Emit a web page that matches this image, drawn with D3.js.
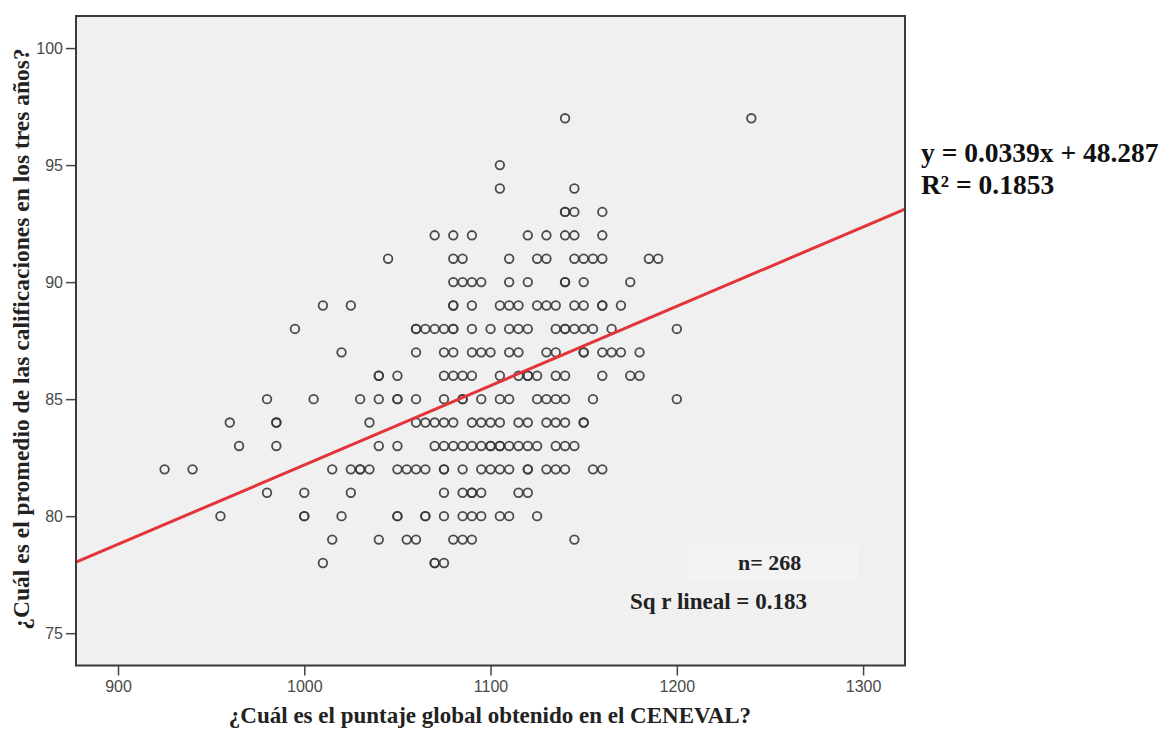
<!DOCTYPE html>
<html>
<head>
<meta charset="utf-8">
<script src="https://cdn.jsdelivr.net/npm/d3@7"></script>
<style>
  body { margin: 0; background: #fff; }
  svg { display: block; }
</style>
</head>
<body>
<div id="chart-area"></div>
<script>
var promedios = [97, 95, 94, 93, 92, 91, 90, 89, 88, 87, 86, 85, 84, 83, 82, 81, 80, 79, 78];
var puntajes = [
  [1140, 1240],
  [1105],
  [1105, 1145],
  [1140, 1140, 1145, 1160],
  [1070, 1080, 1090, 1120, 1130, 1140, 1145, 1160],
  [1045, 1080, 1085, 1110, 1125, 1130, 1145, 1150, 1155, 1160, 1185, 1190],
  [1080, 1085, 1090, 1095, 1110, 1120, 1140, 1140, 1150, 1175],
  [1010, 1025, 1080, 1080, 1090, 1105, 1110, 1115, 1125, 1130, 1135, 1145, 1150, 1160, 1160, 1170],
  [995, 1060, 1060, 1065, 1070, 1075, 1080, 1080, 1090, 1100, 1110, 1115, 1120, 1135, 1140, 1140, 1145, 1150, 1155, 1165, 1200],
  [1020, 1060, 1075, 1080, 1090, 1095, 1100, 1110, 1115, 1130, 1135, 1150, 1150, 1160, 1165, 1170, 1180],
  [1040, 1040, 1050, 1075, 1080, 1085, 1090, 1105, 1115, 1120, 1120, 1125, 1135, 1140, 1160, 1175, 1180],
  [980, 1005, 1030, 1040, 1050, 1050, 1060, 1075, 1085, 1085, 1095, 1105, 1110, 1125, 1130, 1135, 1140, 1155, 1200],
  [960, 985, 985, 1035, 1060, 1065, 1070, 1075, 1080, 1090, 1095, 1100, 1105, 1115, 1120, 1130, 1135, 1140, 1150, 1150],
  [965, 985, 1040, 1050, 1070, 1075, 1080, 1085, 1090, 1095, 1100, 1100, 1105, 1105, 1110, 1115, 1120, 1125, 1135, 1140, 1145],
  [925, 940, 1015, 1025, 1030, 1030, 1035, 1050, 1055, 1060, 1065, 1075, 1075, 1085, 1095, 1100, 1105, 1110, 1120, 1120, 1130, 1135, 1140, 1155, 1160],
  [980, 1000, 1025, 1075, 1085, 1090, 1090, 1095, 1115, 1120],
  [955, 1000, 1000, 1020, 1050, 1050, 1065, 1065, 1075, 1085, 1090, 1095, 1105, 1110, 1125],
  [1015, 1040, 1055, 1060, 1080, 1085, 1090, 1145],
  [1010, 1070, 1070, 1075]
];
var xTicks = [900, 1000, 1100, 1200, 1300];
var yTicks = [75, 80, 85, 90, 95, 100];
var pendiente = 0.0339;
var intercepto = 48.287;

var data = [];
promedios.forEach(function(p, i) {
  puntajes[i].forEach(function(s) {
    data.push({ x: s, y: p });
  });
});

var svg = d3.select('#chart-area').append('svg')
  .attr('width', 1164)
  .attr('height', 729);

var plotLeft = 76, plotTop = 16, plotRight = 905, plotBottom = 665.5;

var x = d3.scaleLinear()
  .domain([877.45, 1322.5])
  .range([plotLeft, plotRight]);

var y = d3.scaleLinear()
  .domain([73.62, 101.37])
  .range([plotBottom, plotTop]);

svg.append('rect')
  .attr('x', plotLeft)
  .attr('y', plotTop)
  .attr('width', plotRight - plotLeft)
  .attr('height', plotBottom - plotTop)
  .attr('fill', '#f0f0f0');

// caja clara detras de n=
svg.append('rect')
  .attr('x', 687)
  .attr('y', 545)
  .attr('width', 171)
  .attr('height', 35)
  .attr('fill', '#f3f3f3');

var xAxis = svg.append('g')
  .attr('transform', 'translate(0,' + plotBottom + ')')
  .call(d3.axisBottom(x).tickValues(xTicks).tickSize(10).tickPadding(5).tickFormat(d3.format('d')));

var yAxis = svg.append('g')
  .attr('transform', 'translate(' + plotLeft + ',0)')
  .call(d3.axisLeft(y).tickValues(yTicks).tickSize(10).tickPadding(3));

[xAxis, yAxis].forEach(function(g) {
  g.select('.domain').remove();
  g.selectAll('.tick line').attr('stroke', '#444').attr('stroke-width', 1.5);
  g.selectAll('.tick text')
    .attr('fill', '#4a4a4a')
    .style('font-family', '"Liberation Sans", Arial, sans-serif')
    .style('font-size', '16px');
});

svg.append('g')
  .selectAll('circle')
  .data(data)
  .enter()
  .append('circle')
    .attr('cx', function(d) { return x(d.x); })
    .attr('cy', function(d) { return y(d.y); })
    .attr('r', 4.3)
    .attr('fill', 'none')
    .attr('stroke', '#383838')
    .attr('stroke-width', 1.8)
    .attr('stroke-opacity', 0.9);

var x0 = x.domain()[0], x1 = x.domain()[1];
svg.append('line')
  .attr('x1', x(x0))
  .attr('y1', y(pendiente * x0 + intercepto))
  .attr('x2', x(x1))
  .attr('y2', y(pendiente * x1 + intercepto))
  .attr('stroke', '#e3343a')
  .attr('stroke-width', 3);

svg.append('rect')
  .attr('x', plotLeft)
  .attr('y', plotTop)
  .attr('width', plotRight - plotLeft)
  .attr('height', plotBottom - plotTop)
  .attr('fill', 'none')
  .attr('stroke', '#3a3a3a')
  .attr('stroke-width', 2);

var serif = '"Liberation Serif", "Times New Roman", serif';

svg.append('text')
  .attr('x', 490)
  .attr('y', 723)
  .attr('text-anchor', 'middle')
  .style('font-family', serif)
  .style('font-weight', 'bold')
  .style('font-size', '23px')
  .attr('fill', '#222')
  .text('¿Cuál es el puntaje global obtenido en el CENEVAL?');

svg.append('text')
  .attr('transform', 'translate(29,339) rotate(-90)')
  .attr('text-anchor', 'middle')
  .style('font-family', serif)
  .style('font-weight', 'bold')
  .style('font-size', '23.5px')
  .attr('fill', '#222')
  .text('¿Cuál es el promedio de las calificaciones en los tres años?');

svg.append('text')
  .attr('x', 738)
  .attr('y', 570)
  .style('font-family', serif)
  .style('font-weight', 'bold')
  .style('font-size', '22px')
  .attr('fill', '#222')
  .text('n= 268');

svg.append('text')
  .attr('x', 630)
  .attr('y', 609)
  .style('font-family', serif)
  .style('font-weight', 'bold')
  .style('font-size', '23px')
  .attr('fill', '#222')
  .text('Sq r lineal = 0.183');

svg.append('text')
  .attr('x', 921)
  .attr('y', 162)
  .style('font-family', serif)
  .style('font-weight', 'bold')
  .style('font-size', '27.5px')
  .attr('fill', '#111')
  .text('y = 0.0339x + 48.287');

svg.append('text')
  .attr('x', 921)
  .attr('y', 194)
  .style('font-family', serif)
  .style('font-weight', 'bold')
  .style('font-size', '27.5px')
  .attr('fill', '#111')
  .text('R² = 0.1853');
</script>
</body>
</html>
